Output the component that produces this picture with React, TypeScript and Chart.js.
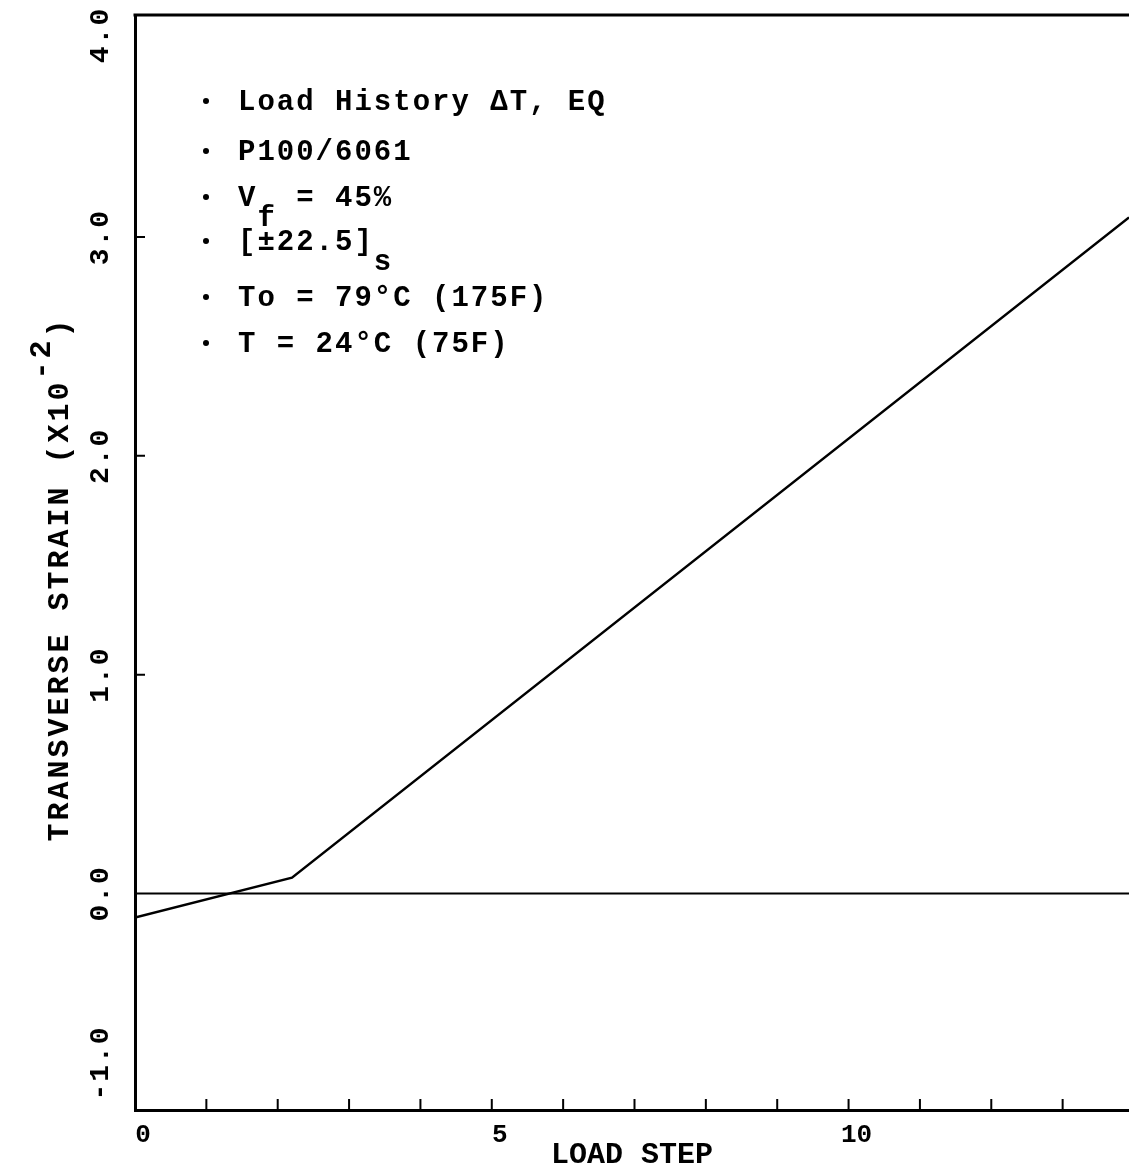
import React, { useEffect, useRef } from 'react';
import { Chart, registerables } from 'chart.js';

Chart.register(...registerables);

// ---- data ----
const loadSteps = [0, 2.2, 13.93];
const strainValues = [-0.11, 0.072, 3.09];
const zeroLineSteps = [0, 13.93];
const zeroLineValues = [0, 0];
const xTickLabels = [0, 5, 10];
const xTickMarks = [1, 2, 3, 4, 5, 6, 7, 8, 9, 10, 11, 12, 13];
const yTickMarks = [1, 2, 3];
const yTickLabels = [-1, 0, 1, 2, 3, 4];
const xMin = 0;
const xMax = 13.93;
const yMin = -0.99;
const yMax = 4.015;
const xTitle = 'LOAD STEP';
const yTitleMain = 'TRANSVERSE STRAIN (X10';
const yTitleSup = '-2';
const yTitleEnd = ')';
const noteMain = ['Load History \u0394T, EQ', 'P100/6061', 'V', '[\u00B122.5]', 'To = 79\u00B0C (175F)', 'T = 24\u00B0C (75F)'];
const noteSub = ['', '', 'f', 's', '', ''];
const noteRest = ['', '', ' = 45%', '', '', ''];

const FONT = '"Liberation Mono", "Courier New", monospace';

const decorPlugin = {
  id: 'decor',
  afterDraw(chart: any) {
    const { ctx, chartArea: a, scales } = chart;
    const x = scales.x;
    const y = scales.y;
    ctx.save();
    ctx.strokeStyle = '#000';
    ctx.lineCap = 'butt';
    // top frame
    ctx.lineWidth = 3;
    ctx.beginPath();
    ctx.moveTo(a.left - 1.5, a.top);
    ctx.lineTo(a.right, a.top);
    ctx.stroke();
    // inward ticks
    ctx.lineWidth = 2;
    ctx.beginPath();
    for (const v of xTickMarks) {
      const px = x.getPixelForValue(v);
      ctx.moveTo(px, a.bottom);
      ctx.lineTo(px, a.bottom - 11);
    }
    for (const v of yTickMarks) {
      const py = y.getPixelForValue(v);
      ctx.moveTo(a.left, py);
      ctx.lineTo(a.left + 10, py);
    }
    ctx.stroke();

    ctx.fillStyle = '#000';

    // y tick labels (rotated, read bottom-to-top)
    ctx.font = `bold 28px ${FONT}`;
    (ctx as any).letterSpacing = '2px';
    ctx.textAlign = 'center';
    ctx.textBaseline = 'middle';
    for (const v of yTickLabels) {
      const py = y.getPixelForValue(v);
      ctx.save();
      ctx.translate(101, Math.min(Math.max(py, a.top + 20), a.bottom - 47));
      ctx.rotate(-Math.PI / 2);
      ctx.fillText(v.toFixed(1), 0, 0);
      ctx.restore();
    }

    // y title with superscript
    ctx.font = `bold 30px ${FONT}`;
    (ctx as any).letterSpacing = '3px';
    ctx.textBaseline = 'alphabetic';
    ctx.textAlign = 'left';
    const w1 = ctx.measureText(yTitleMain).width;
    const w2 = ctx.measureText(yTitleSup).width;
    const w3 = ctx.measureText(yTitleEnd).width;
    const total = w1 + w2 + w3;
    ctx.save();
    ctx.translate(68, 579);
    ctx.rotate(-Math.PI / 2);
    let cx = -total / 2;
    ctx.fillText(yTitleMain, cx, 0);
    cx += w1;
    ctx.fillText(yTitleSup, cx, -18);
    cx += w2;
    ctx.fillText(yTitleEnd, cx, 0);
    ctx.restore();

    // notes
    const baselines = [110, 160, 206, 250, 306, 352];
    ctx.font = `bold 29px ${FONT}`;
    (ctx as any).letterSpacing = '2px';
    for (let i = 0; i < noteMain.length; i++) {
      const by = baselines[i];
      ctx.beginPath();
      ctx.arc(206, by - 9, 3, 0, Math.PI * 2);
      ctx.fill();
      let tx = 238;
      ctx.fillText(noteMain[i], tx, by);
      tx += ctx.measureText(noteMain[i]).width;
      if (noteSub[i]) {
        ctx.fillText(noteSub[i], tx, by + 20);
        tx += ctx.measureText(noteSub[i]).width;
      }
      if (noteRest[i]) {
        ctx.fillText(noteRest[i], tx, by);
      }
    }
    ctx.restore();
  },
};

export default function App() {
  const ref = useRef<HTMLCanvasElement | null>(null);
  useEffect(() => {
    if (!ref.current) return;
    const chart = new Chart(ref.current, {
      type: 'line',
      data: {
        datasets: [
          {
            data: loadSteps.map((s, i) => ({ x: s, y: strainValues[i] })),
            borderColor: '#000',
            borderWidth: 2.5,
            pointRadius: 0,
            tension: 0,
            fill: false,
          },
          {
            data: zeroLineSteps.map((s, i) => ({ x: s, y: zeroLineValues[i] })),
            borderColor: '#000',
            borderWidth: 2,
            pointRadius: 0,
            tension: 0,
            fill: false,
          },
        ],
      },
      options: {
        animation: false,
        responsive: false,
        layout: { padding: { left: 135, right: 0, top: 15, bottom: 0 } },
        plugins: { legend: { display: false }, tooltip: { enabled: false } },
        scales: {
          x: {
            type: 'linear',
            min: xMin,
            max: xMax,
            grid: { display: false, drawTicks: false },
            border: { display: true, color: '#000', width: 3 },
            afterBuildTicks: (scale: any) => {
              scale.ticks = xTickLabels.map((v) => ({ value: v }));
            },
            ticks: {
              autoSkip: false,
              maxRotation: 0,
              padding: 12,
              labelOffset: 8,
              color: '#000',
              font: { family: FONT, size: 26, weight: 'bold', lineHeight: 1 },
              callback: (v: any) => String(v),
            },
            title: {
              display: true,
              text: xTitle,
              color: '#000',
              font: { family: FONT, size: 30, weight: 'bold', lineHeight: 1 },
              padding: { top: -20, bottom: 0 },
            },
          },
          y: {
            type: 'linear',
            min: yMin,
            max: yMax,
            grid: { display: false, drawTicks: false },
            border: { display: true, color: '#000', width: 3 },
            ticks: { display: false },
          },
        },
      },
      plugins: [decorPlugin],
    } as any);
    return () => chart.destroy();
  }, []);
  return (
    <div style={{ position: 'absolute', left: 0, top: 0, width: 1129, height: 1170, background: '#fff' }}>
      <canvas ref={ref} width={1129} height={1170} style={{ width: 1129, height: 1170, display: 'block' }} />
    </div>
  );
}
